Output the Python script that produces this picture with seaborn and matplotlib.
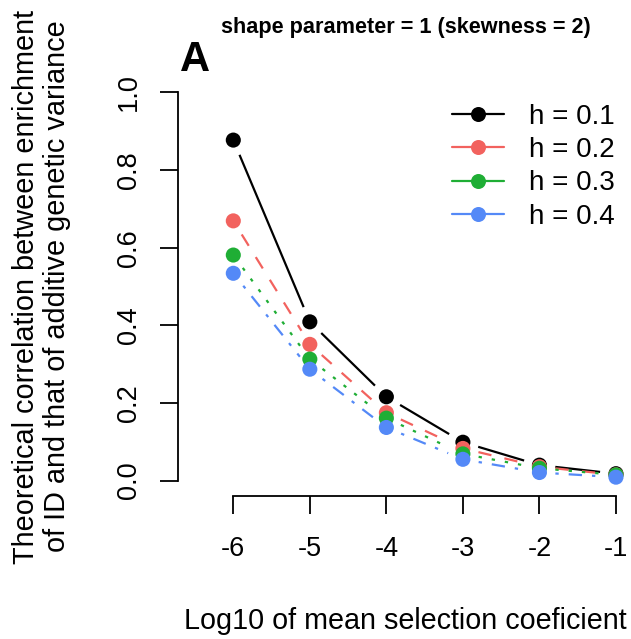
import numpy as np
import pandas as pd
import matplotlib
matplotlib.use("Agg")
import matplotlib.pyplot as plt
from matplotlib.lines import Line2D
import seaborn as sns

# ---- data ----
log10_s = [-6, -5, -4, -3, -2, -1]
h_labels = ["h = 0.1", "h = 0.2", "h = 0.3", "h = 0.4"]
corr_h01 = [0.877, 0.409, 0.216, 0.099, 0.040, 0.018]
corr_h02 = [0.669, 0.351, 0.175, 0.083, 0.036, 0.015]
corr_h03 = [0.581, 0.313, 0.161, 0.069, 0.032, 0.015]
corr_h04 = [0.534, 0.287, 0.137, 0.055, 0.021, 0.009]
y_ticks = [0.0, 0.2, 0.4, 0.6, 0.8, 1.0]
y_ticklabels = ["0.0", "0.2", "0.4", "0.6", "0.8", "1.0"]
x_ticklabels = ["-6", "-5", "-4", "-3", "-2", "-1"]

series = [corr_h01, corr_h02, corr_h03, corr_h04]
colors = ["#000000", "#F2625E", "#1FAE35", "#5489F7"]
# R-style line types (in units of line width)
linestyles = [
    "solid",
    (0, (6, 6)),
    (0, (1.5, 4.5)),
    (0, (1.5, 4.5, 6, 4.5)),
]

sns.set_theme(style="white")
plt.rcParams["font.family"] = ["Liberation Sans", "DejaVu Sans"]

W, H = 631, 639
fig = plt.figure(figsize=(W / 100, H / 100), dpi=100)
L, R, B, T = 178.2, 632.8, 496.2, 76.8
ax = fig.add_axes([L / W, (H - B) / H, (R - L) / W, (B - T) / H])
ax.set_facecolor("white")

ax.set_xlim(-6.72, -0.78)
ax.set_ylim(-0.04, 1.04)

df = pd.DataFrame({
    "x": np.tile(log10_s, len(series)),
    "y": np.concatenate(series),
    "h": np.repeat(h_labels, len(log10_s)),
})

lw_pt = 1.6
gap_pt = 11.5
fig.canvas.draw()
for lab, ys, c, ls in zip(h_labels, series, colors, linestyles):
    for i in range(len(log10_s) - 1):
        p1 = ax.transData.transform((log10_s[i], ys[i]))
        p2 = ax.transData.transform((log10_s[i + 1], ys[i + 1]))
        dist_pt = np.hypot(*(p2 - p1)) * 72 / fig.dpi
        if dist_pt <= 2 * gap_pt:
            continue
        ax.annotate("", xy=(log10_s[i + 1], ys[i + 1]), xytext=(log10_s[i], ys[i]),
                    arrowprops=dict(arrowstyle="-", shrinkA=gap_pt, shrinkB=gap_pt,
                                    color=c, lw=lw_pt, linestyle=ls, capstyle="butt"),
                    zorder=2)

sns.scatterplot(data=df, x="x", y="y", hue="h", palette=dict(zip(h_labels, colors)),
                s=118, linewidth=0, legend=False, ax=ax, zorder=3)

# axes styling (R-like detached axes)
for side in ["top", "right"]:
    ax.spines[side].set_visible(False)
ax.spines["left"].set_bounds(0, 1)
ax.spines["bottom"].set_bounds(-6, -1)
for side in ["left", "bottom"]:
    ax.spines[side].set_linewidth(1.3)
    ax.spines[side].set_color("black")

ax.set_xticks(log10_s)
ax.set_xticklabels(x_ticklabels)
ax.set_yticks(y_ticks)
ax.set_yticklabels(y_ticklabels, rotation=90, va="center")
ax.tick_params(axis="both", direction="out", length=13, width=1.3, color="black",
               labelsize=19.5, labelcolor="black", bottom=True, left=True)
ax.tick_params(axis="x", pad=15.5)
ax.tick_params(axis="y", pad=13.2)

ax.set_xlabel("Log10 of mean selection coeficient", fontsize=20.7, color="black")
ax.xaxis.label.set_va("baseline")
ax.xaxis.set_label_coords(0.5, (B - 629.3) / (B - T))

ax.set_ylabel("Theoretical correlation between enrichment\nof ID and that of additive genetic variance",
              fontsize=20.8, color="black", linespacing=1.12)
ax.yaxis.label.set_va("center")
ax.yaxis.set_label_coords((41.5 - L) / (R - L), 0.5)

ax.text(0.5, (B - 33.3) / (B - T), "shape parameter = 1 (skewness = 2)",
        transform=ax.transAxes, ha="center", va="baseline", fontsize=15.6,
        fontweight="bold", color="black")
ax.text((180 - L) / (R - L), (B - 71) / (B - T), "A", transform=ax.transAxes,
        ha="left", va="baseline", fontsize=30, fontweight="bold", color="black")

handles = [Line2D([0], [0], color=c, lw=lw_pt, marker="o", markersize=10.8,
                  markeredgewidth=0) for c in colors]
leg = ax.legend(handles, h_labels, loc="upper left",
                bbox_to_anchor=(451.7 / W, (H - 103.5) / H), bbox_transform=fig.transFigure,
                frameon=False, fontsize=20, handlelength=1.9, handletextpad=0.9,
                labelspacing=0.27, borderpad=0, borderaxespad=0)
for t in leg.get_texts():
    t.set_color("black")

fig.savefig("out.png", dpi=100)
